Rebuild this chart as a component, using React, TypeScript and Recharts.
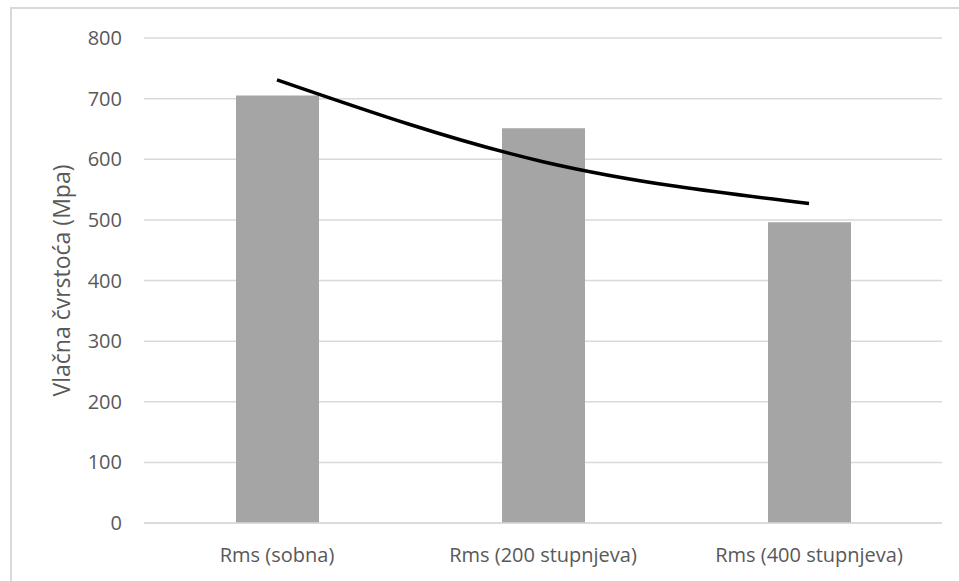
import React from 'react';
import {
  ComposedChart,
  Bar,
  Line,
  XAxis,
  YAxis,
  CartesianGrid,
  Label
} from 'recharts';

const categories = ['Rms (sobna)', 'Rms (200 stupnjeva)', 'Rms (400 stupnjeva)'];
const strength = [705, 651, 496];
const trend = [731, 596, 527];
const yTicks = [0, 100, 200, 300, 400, 500, 600, 700, 800];

const data = categories.map((name, i) => ({
  name,
  value: strength[i],
  trend: trend[i]
}));

const FONT = '"Open Sans", "Noto Sans", sans-serif';
const TEXT = '#595959';
const GRID = '#d9d9d9';

const YLabel = (props: any) => {
  const vb = props.viewBox || { x: 0, y: 0, width: 0, height: 0 };
  const cx = 61;
  const cy = vb.y + vb.height / 2;
  return (
    <text
      x={cx}
      y={cy}
      transform={`rotate(-90 ${cx} ${cy})`}
      textAnchor="middle"
      dominantBaseline="central"
      fill={TEXT}
      fontFamily={FONT}
      fontSize={23}
    >
      Vlačna čvrstoća (Mpa)
    </text>
  );
};

export default function App() {
  return (
    <div style={{ position: 'absolute', left: 0, top: 0, width: 959, height: 581, overflow: 'hidden', background: '#fff' }}>
      <div
        style={{
          position: 'absolute',
          left: 10,
          top: 7,
          width: 1000,
          height: 700,
          borderTop: `2px solid ${GRID}`,
          borderLeft: `2px solid ${GRID}`
        }}
      />
      <ComposedChart
        width={959}
        height={581}
        data={data}
        margin={{ top: 38, right: 17, bottom: 0, left: 0 }}
        style={{ position: 'absolute', left: 0, top: 0 }}
      >
        <CartesianGrid vertical={false} stroke={GRID} strokeWidth={1.5} />
        <XAxis
          dataKey="name"
          height={58}
          tickLine={false}
          tickSize={0}
          tickMargin={25}
          axisLine={{ stroke: GRID, strokeWidth: 1.5 }}
          tick={{ fill: TEXT, fontFamily: FONT, fontSize: 20 }}
          interval={0}
        />
        <YAxis
          width={144}
          domain={[0, 800]}
          ticks={yTicks}
          tickLine={false}
          axisLine={false}
          tickSize={0}
          tickMargin={22}
          tick={{ fill: TEXT, fontFamily: FONT, fontSize: 20 }}
        >
          <Label content={<YLabel />} />
        </YAxis>
        <Bar dataKey="value" fill="#a5a5a5" barSize={83} isAnimationActive={false} />
        <Line
          dataKey="trend"
          type="natural"
          stroke="#000"
          strokeWidth={3.5}
          dot={false}
          activeDot={false}
          isAnimationActive={false}
        />
      </ComposedChart>
    </div>
  );
}
